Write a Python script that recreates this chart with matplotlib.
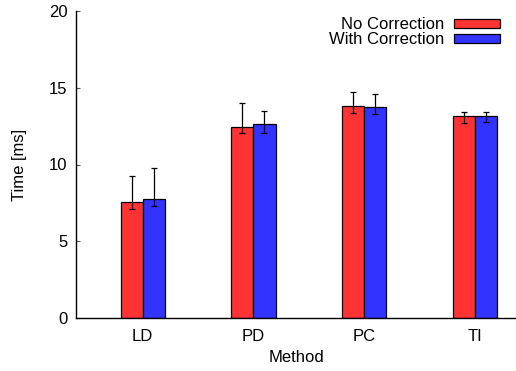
import matplotlib
matplotlib.use("Agg")
import matplotlib.pyplot as plt
import numpy as np

plt.rcParams['font.family'] = ['Liberation Sans', 'DejaVu Sans']

categories = ["LD", "PD", "PC", "TI"]
series_names = ["No Correction", "With Correction"]
no_corr = [7.57, 12.45, 13.81, 13.16]
no_corr_low = [7.11, 12.06, 13.36, 12.73]
no_corr_high = [9.23, 13.98, 14.70, 13.44]
with_corr = [7.76, 12.64, 13.75, 13.16]
with_corr_low = [7.28, 12.06, 13.29, 12.77]
with_corr_high = [9.78, 13.51, 14.60, 13.40]
yticks = [0, 5, 10, 15, 20]

FS = 12
fig = plt.figure(figsize=(5.16, 3.71), dpi=100)
ax = fig.add_axes([76/516, 53/371, 1 - 76/516, (318-11)/371])

x = np.arange(len(categories))
w = 0.2
colors = ["#ff3333", "#3333ff"]
vals = [no_corr, with_corr]
lows = [no_corr_low, with_corr_low]
highs = [no_corr_high, with_corr_high]
offsets = [-w/2, w/2]
for i in range(2):
    v = np.array(vals[i]); lo = np.array(lows[i]); hi = np.array(highs[i])
    ax.bar(x + offsets[i], v, w, color=colors[i], edgecolor="black", linewidth=0.9,
           label=series_names[i], zorder=2)
    ax.errorbar(x + offsets[i], v, yerr=[v - lo, hi - v], fmt="none", ecolor="black",
                elinewidth=0.9, capsize=2.2, capthick=0.9, zorder=3)

ax.set_xlim(-0.603, 3.373)
ax.set_ylim(0, 20)
ax.set_xticks(x)
ax.set_xticklabels(categories, fontsize=FS)
ax.set_yticks(yticks)
ax.set_yticklabels([str(t) for t in yticks], fontsize=FS)
ax.tick_params(axis='x', length=0, pad=8)
ax.tick_params(axis='y', direction='in', length=3, width=0.8, color='#555555', pad=6)
for s in ['top', 'right']:
    ax.spines[s].set_visible(False)
for s in ['left', 'bottom']:
    ax.spines[s].set_linewidth(1.0)
ax.set_xlabel("Method", fontsize=FS, labelpad=4)
ax.set_ylabel("Time [ms]", fontsize=FS, labelpad=16)

leg = ax.legend(loc='upper right', bbox_to_anchor=(500/516, 1 - 17/371), bbox_transform=fig.transFigure,
                frameon=False, markerfirst=False, fontsize=FS, handlelength=2.75, handleheight=0.45,
                handletextpad=0.6, labelspacing=0.0, borderpad=0, borderaxespad=0)
for t in leg.get_texts():
    t.set_ha('right')

fig.savefig("out.png", dpi=100)
